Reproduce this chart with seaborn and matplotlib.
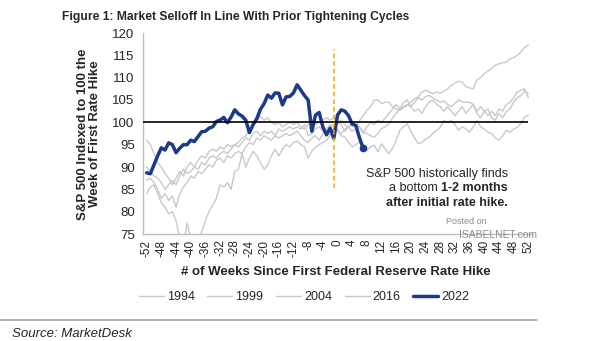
import numpy as np
import pandas as pd
import matplotlib
matplotlib.use("Agg")
import matplotlib.pyplot as plt
import seaborn as sns
from matplotlib.lines import Line2D

weeks = list(range(-52, 53))

s1994 = [96, 95, 93, 91, 90, 88.5, 87.5, 86, 87.5, 89, 88, 90, 91, 90, 91.5, 92.5, 92, 93.5, 94, 93.5,
         94.5, 94, 95, 94.5, 95, 95.5, 96.5, 97, 98.5, 99, 100.5, 101.3, 100.5, 101, 100, 99.5, 100, 99, 99.5, 100,
         99.5, 100, 99, 98.5, 99.5, 100, 99.5, 100, 100.5, 101, 100.5, 101, 100, 99.5, 98, 99, 100, 99.5, 98.9, 98,
         97.5, 97, 96.7, 97.5, 98.6, 99, 99.7, 101, 102, 103.1, 103.5, 104, 103.5, 104.5, 105.5, 105, 105.8, 106, 105.5, 105,
         104.5, 104.8, 104, 103.5, 104.2, 105, 104.6, 104.5, 104.5, 104, 102.5, 103.5, 102.5, 101.5, 102.5, 101.5, 103, 102.5, 104, 104.5,
         105.5, 106.8, 107.2, 107.5, 105.5]

s1999 = [84, 85.5, 86, 84, 82, 81, 79.5, 80, 78, 74, 72, 77.5, 74, 71, 72, 75.5, 78, 80, 81.5, 83,
         86, 85.5, 86.5, 85, 89, 89.5, 93, 90, 92, 93.5, 92.5, 91, 89.5, 90.5, 92.5, 94, 92.5, 94, 95, 94.5,
         95.5, 95.8, 95, 94.5, 92, 93.5, 94.5, 95, 95.5, 96, 97, 97.5, 98.5, 97, 96.7, 95.5, 94.5, 95, 95.6, 94.5,
         93.7, 94.5, 94.9, 93.4, 95.2, 94, 93, 94.2, 96, 98.2, 99, 99.7, 98, 96.5, 95.2, 95.5, 96.2, 96.7, 97.5, 98.2,
         98.9, 100.4, 100, 100.4, 99.5, 98.2, 99, 98.5, 97.8, 99, 100.4, 99, 98.5, 97.8, 97.5, 96.5, 96, 97, 98.2, 97.8,
         98.5, 98.9, 99.8, 101.2, 101.6]

s2004 = [87, 87.5, 86.5, 85, 83, 84, 82.5, 83.5, 81, 84, 85.5, 86.5, 88, 87.5, 89, 88.5, 89.5, 90.5, 90, 91.5,
         92, 91, 92.5, 92, 93, 93.5, 93, 94.5, 95.5, 95, 96.5, 96, 97, 96.5, 96, 97, 96.5, 97, 97.5, 97,
         97.5, 98, 97, 96, 95.5, 96.5, 97, 96, 97.5, 98, 97, 98.5, 98, 97.5, 98.5, 99, 98, 98.5, 98.9, 97.5,
         99, 100, 99.5, 100.5, 100, 101, 102, 103, 104, 103, 104.5, 105, 103.5, 102.5, 103, 102, 103.5, 104.5, 105, 104,
         103.5, 102.5, 103.5, 102.5, 101.5, 102.5, 103.5, 102, 103, 104, 102, 101, 102.5, 103, 101, 100.5, 102, 101, 102.5, 103,
         104.5, 105.5, 106, 107, 106.5]

s2016 = [90, 89, 88, 87.5, 86.5, 85, 86, 87, 86, 88, 89.5, 88.5, 89, 90, 89.5, 91, 90.5, 92, 92.5, 92,
         93, 93.5, 93, 94, 95, 94.5, 95.5, 96.5, 96, 97.5, 98, 97, 98, 97.5, 98, 97, 98.5, 98, 98.5, 99,
         98.5, 99, 98.5, 99.5, 97, 97.5, 98.5, 99, 98, 98.5, 99.5, 99, 100, 100.5, 99.5, 98.9, 99.5, 99, 100.4, 101.5,
         102.7, 103.5, 104.9, 105, 104.2, 104.5, 104.5, 103.5, 103, 102.7, 103.3, 103.8, 104.5, 105.3, 105.7, 106.8, 107.2, 106.8, 106.4, 106.8,
         106.5, 107, 107.5, 108.3, 108.8, 109.2, 109, 108, 107.7, 107.5, 109.5, 110, 110.9, 111.5, 112, 112.8, 113.1, 113.3, 113.5, 114.2,
         114.5, 115, 115.8, 116.8, 117.3]

weeks_2022 = list(range(-52, 8))
s2022 = [88.7, 88.5, 90.5, 92.5, 94.3, 93.8, 95.4, 95.0, 93.2, 94.2, 95.0, 95.0, 96.0, 95.7, 96.8, 97.9, 98.0, 98.7, 99.0, 100.2,
         100.5, 101.1, 99.9, 101.2, 102.8, 101.9, 101.4, 100.5, 97.7, 99.5, 100.8, 102.9, 104.2, 106.1, 105.4, 106.6, 106.5, 103.9, 105.7, 105.8,
         106.6, 108.4, 107.2, 106.0, 105.0, 98.0, 101.6, 102.2, 99.0, 97.2, 98.7, 96.4, 101.6, 102.8, 102.5, 101.5, 99.6, 99.3, 96.5, 94.2]

years = ["1994", "1999", "2004", "2016"]
gray_series = [s1994, s1999, s2004, s2016]
tick_weeks = list(range(-52, 53, 4))

sns.set_style("white")
plt.rcParams["font.family"] = ["Liberation Sans", "DejaVu Sans"]

GRAY = "#c9c9c9"
BLUE = "#1c3a8a"
TXT = "#262626"

fig = plt.figure(figsize=(6.05, 3.41), dpi=100)
ax = fig.add_axes([143 / 605, 1 - 234 / 341, 389 / 605, (234 - 33) / 341])

for yr, s in zip(years, gray_series):
    df = pd.DataFrame({"week": weeks, "value": s})
    sns.lineplot(data=df, x="week", y="value", ax=ax, color=GRAY, linewidth=1.0, legend=False)

df22 = pd.DataFrame({"week": weeks_2022, "value": s2022})
sns.lineplot(data=df22, x="week", y="value", ax=ax, color=BLUE, linewidth=2.5, legend=False)
ax.plot(weeks_2022[-1], s2022[-1], "o", color=BLUE, markersize=4.5, zorder=5)

ax.hlines(100, -53, 52, color="black", linewidth=1.2, zorder=4)
ax.vlines(-1, 85.2, 116.5, color="#f5a800", linewidth=1.1, linestyles=(0, (3, 2)), zorder=4)

ax.set_xlim(-53, 53)
ax.set_ylim(75, 120)
ax.set_xticks(tick_weeks)
ax.set_xticklabels([str(t) for t in tick_weeks], rotation=90, fontsize=8.5, color=TXT)
ax.set_yticks(range(75, 121, 5))
ax.set_yticklabels([str(v) for v in range(75, 121, 5)], fontsize=9.5, color=TXT)
ax.tick_params(axis="y", length=3, color="#bfbfbf", pad=3)
ax.tick_params(axis="x", length=0, pad=4)
for side in ["top", "right"]:
    ax.spines[side].set_visible(False)
for side in ["left", "bottom"]:
    ax.spines[side].set_color("#bfbfbf")
    ax.spines[side].set_linewidth(1.0)
ax.set_xlabel("")
ax.set_ylabel("")

fig.text(89 / 605, 1 - 134 / 341, "S&P 500 Indexed to 100 the\nWeek of First Rate Hike",
         rotation=90, ha="center", va="center", fontsize=9.5, fontweight="bold", color=TXT, linespacing=1.05)
fig.text(336 / 605, 1 - 272 / 341, "# of Weeks Since First Federal Reserve Rate Hike",
         ha="center", va="center", fontsize=9.5, fontweight="bold", color=TXT)
fig.text(62 / 605, 1 - 17 / 341, "Figure 1: Market Selloff In Line With Prior Tightening Cycles",
         ha="left", va="center", fontsize=8.7, fontweight="bold", color=TXT)

# annotation
fig.canvas.draw()
r = fig.canvas.get_renderer()
xr = 508 / 605
fig.text(xr, 1 - 174 / 341, "S&P 500 historically finds", ha="right", va="center", fontsize=9, color=TXT)
tb = fig.text(xr, 1 - 188 / 341, "1-2 months", ha="right", va="center", fontsize=9, fontweight="bold", color=TXT)
fig.text(xr, 1 - 203 / 341, "after initial rate hike.", ha="right", va="center", fontsize=9, fontweight="bold", color=TXT)
bb = tb.get_window_extent(renderer=r)
fig.text(bb.x0 / fig.bbox.width, 1 - 188 / 341, "a bottom ", ha="right", va="center", fontsize=9, color=TXT)

# watermark
fig.text(446 / 605, 1 - 222 / 341, "Posted on", ha="left", va="center", fontsize=6.5, color="#8c8c8c")
fig.text(459 / 605, 1 - 235 / 341, "ISABELNET.com", ha="left", va="center", fontsize=7.5, color="#8c8c8c")

handles = [Line2D([0], [0], color=GRAY, linewidth=1.0) for _ in years] + \
          [Line2D([0], [0], color=BLUE, linewidth=2.5)]
labels = years + ["2022"]
fig.legend(handles, labels, loc="center", bbox_to_anchor=(304 / 605, 1 - 297 / 341), ncol=5,
           frameon=False, fontsize=9, handlelength=2.0, handletextpad=0.25, columnspacing=1.0,
           labelcolor=TXT)

fig.add_artist(Line2D([0, 537 / 605], [1 - 320 / 341, 1 - 320 / 341], color="#a6a6a6", linewidth=1.2,
                      transform=fig.transFigure))
fig.text(12 / 605, 1 - 334 / 341, "Source: MarketDesk", ha="left", va="center", fontsize=9.5,
         fontstyle="italic", color=TXT)

fig.savefig("out.png", dpi=100)
